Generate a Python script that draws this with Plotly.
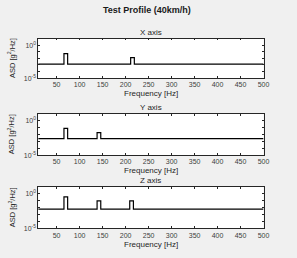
import plotly.graph_objects as go

# ---- data ----
freq_min = 10
freq_max = 500
panel_names = ["X axis", "Y axis", "Z axis"]
base_levels = [1.3e-3, 2.5e-3, 6.0e-3]
peak_freqs = [[70, 215], [70, 142], [70, 142, 213]]
peak_levels = [[0.05, 0.013], [0.075, 0.018], [0.35, 0.09, 0.09]]
peak_halfwidth = 4
xticks = [50, 100, 150, 200, 250, 300, 350, 400, 450, 500]
ydecades = [-5, -4, -3, -2, -1, 0, 1]

W, H = 297, 258
def py(p):
    return 1 - p / H
def px(p):
    return p / W

box_x = (39, 269)
boxes_y = [(39, 79), (115, 157), (189, 231)]

fig = go.Figure()
font = "Liberation Sans, Arial, sans-serif"
axis_col = "#262626"

def step_series(base, centers, levels):
    xs = [freq_min]
    ys = [base]
    for c, l in zip(centers, levels):
        x0, x1 = c - peak_halfwidth, c + peak_halfwidth
        xs += [x0, x0, x1, x1]
        ys += [base, l, l, base]
    xs.append(freq_max)
    ys.append(base)
    return xs, ys

def ann(text, x, y, size, angle=0):
    return dict(text=text, x=px(x), y=py(y), xref="paper", yref="paper",
                xanchor="center", yanchor="middle", textangle=angle, showarrow=False,
                font=dict(family=font, size=size, color="#262626"))

annotations = []
for i in range(3):
    xs, ys = step_series(base_levels[i], peak_freqs[i], peak_levels[i])
    xa = "x" if i == 0 else f"x{i+1}"
    ya = "y" if i == 0 else f"y{i+1}"
    fig.add_trace(go.Scatter(x=xs, y=ys, mode="lines", xaxis=xa, yaxis=ya,
                             line=dict(color="black", width=1.2), showlegend=False))
    top, bot = boxes_y[i]
    xkey = "xaxis" if i == 0 else f"xaxis{i+1}"
    ykey = "yaxis" if i == 0 else f"yaxis{i+1}"
    fig.layout[xkey] = dict(domain=[px(box_x[0]), px(box_x[1])], range=[freq_min, freq_max],
                            anchor=ya, tickvals=xticks, ticks="inside", ticklen=2,
                            tickcolor=axis_col, showline=True, linecolor=axis_col, linewidth=0.8,
                            mirror="ticks", showgrid=False, zeroline=False,
                            tickfont=dict(family=font, size=7, color="#404040"))
    fig.layout[ykey] = dict(domain=[py(bot), py(top)], type="log", range=[-5, 1],
                            anchor=xa, tickvals=[10 ** d for d in ydecades],
                            ticktext=["10<sup>-5</sup>" if d == -5 else ("10<sup>0</sup>" if d == 0 else "") for d in ydecades],
                            ticks="inside", ticklen=2, tickcolor=axis_col,
                            showline=True, linecolor=axis_col, linewidth=0.8, mirror="ticks",
                            showgrid=False, zeroline=False,
                            tickfont=dict(family=font, size=7, color="#404040"))
    cx = (box_x[0] + box_x[1]) / 2
    annotations.append(ann(panel_names[i], cx, top - 6, 8))
    annotations.append(ann("Frequency [Hz]", cx, bot + 16, 8))
    annotations.append(ann("ASD [g<sup>2</sup>/Hz]", 12, (top + bot) / 2, 7.5, -90))

t = ann("<b>Test Profile (40km/h)</b>", 150, 10, 9)
t["font"]["color"] = "#1a1a1a"
annotations.append(t)

fig.update_layout(width=W, height=H, margin=dict(l=0, r=0, t=0, b=0),
                  paper_bgcolor="#f0f0f0", plot_bgcolor="white",
                  annotations=annotations, showlegend=False)

fig.write_html("out.html")
